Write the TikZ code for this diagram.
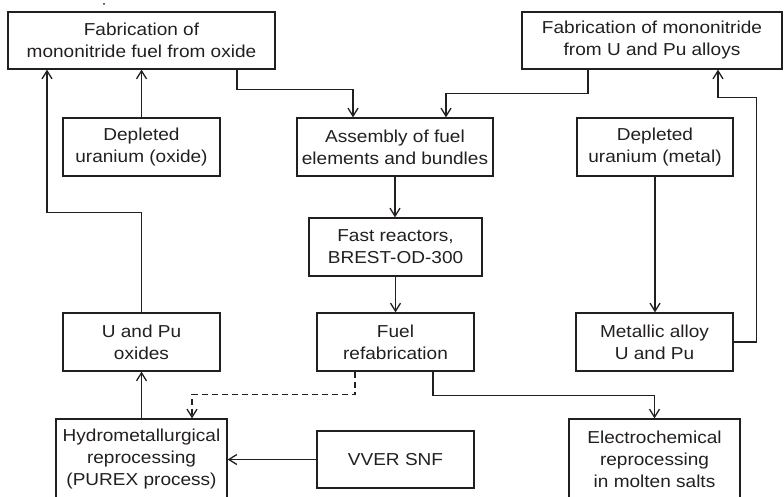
\documentclass[tikz,border=0pt]{standalone}
\usepackage{fontspec}
\setmainfont{Liberation Sans}[FakeStretch=1.1]
\usetikzlibrary{arrows.meta}
\definecolor{ink}{RGB}{35,31,32}
\begin{document}
\begin{tikzpicture}[x=1pt,y=-1pt,
  every node/.style={font=\fontsize{17.3}{22}\selectfont, text=ink},
  stage/.style={draw=ink, line width=1.3pt, rectangle, inner sep=0pt, align=center},
  arr/.style={draw=ink, line width=1.3pt, -{Straight Barb[length=8pt,width=10pt,line width=1.3pt]}},
  dashline/.style={dash pattern=on 6pt off 4pt}]
\path[use as bounding box] (0,0) rectangle (784,497);
\clip (0,0) rectangle (784,497);

\fill[ink] (104,4) circle (1pt);

% stages
\node[stage, minimum width=267pt, minimum height=57pt] (fabox) at (141.5,40.5) {Fabrication of\\mononitride fuel from oxide};
\node[stage, minimum width=260pt, minimum height=57pt] (faball) at (652,40.5) {Fabrication of mononitride\\from U and Pu alloys};
\node[stage, minimum width=157pt, minimum height=58pt] (depox) at (141.5,147) {Depleted\\uranium (oxide)};
\node[stage, minimum width=196pt, minimum height=58pt] (asm) at (395,147) {Assembly of fuel\\elements and bundles};
\node[stage, minimum width=156pt, minimum height=58pt] (depmet) at (655,147) {Depleted\\uranium (metal)};
\node[stage, minimum width=173pt, minimum height=58pt] (fast) at (395.5,247) {Fast reactors,\\BREST-OD-300};
\node[stage, minimum width=157pt, minimum height=58pt] (uox) at (141.5,342) {U and Pu\\oxides};
\node[stage, minimum width=157pt, minimum height=58pt] (refab) at (395.5,342) {Fuel\\refabrication};
\node[stage, minimum width=157pt, minimum height=58pt] (metal) at (654.5,342) {Metallic alloy\\U and Pu};
\node[stage, minimum width=171pt, minimum height=81pt] (hydro) at (141.5,459.5) {Hydrometallurgical\\reprocessing\\(PUREX process)};
\node[stage, minimum width=157pt, minimum height=57pt] (vver) at (395.5,459.5) {VVER SNF};
\node[stage, minimum width=171pt, minimum height=81pt] (electro) at (654.5,459.5) {Electrochemical\\reprocessing\\in molten salts};

% flows
\draw[arr] (depox.north) -- (depox.north |- fabox.south);
\draw[arr] (uox.north) |- ([xshift=-94.5pt,yshift=-143pt]fabox.south) -- ([xshift=-94.5pt]fabox.south);
\draw[arr] ([xshift=95.5pt]fabox.south) |- ([xshift=-42pt,yshift=28pt]asm.north) -- ([xshift=-42pt]asm.north);
\draw[arr] ([xshift=-64pt]faball.south) |- ([xshift=51pt,yshift=24pt]asm.north) -- ([xshift=51pt]asm.north);
\draw[arr] (asm.south) -- (asm.south |- fast.north);
\draw[arr] (fast.south) -- (refab.north);
\draw[arr] (depmet.south) -- (depmet.south |- metal.north);
\draw[arr] (metal.east) -- ++(23pt,0pt) |- ([xshift=66pt,yshift=-28pt]faball.south) -- ([xshift=66pt]faball.south);
\draw[arr] ([xshift=37.5pt]refab.south) |- ([yshift=23pt]electro.north) -- (electro.north);
\draw[arr, dashline] ([xshift=-40.5pt]refab.south) |- ([xshift=50.5pt,yshift=24pt]hydro.north) -- ([xshift=50.5pt]hydro.north);
\draw[arr] (hydro.north) -- (uox.south);
\draw[arr] (vver.west) -- (vver.west -| hydro.east);
\end{tikzpicture}
\end{document}
